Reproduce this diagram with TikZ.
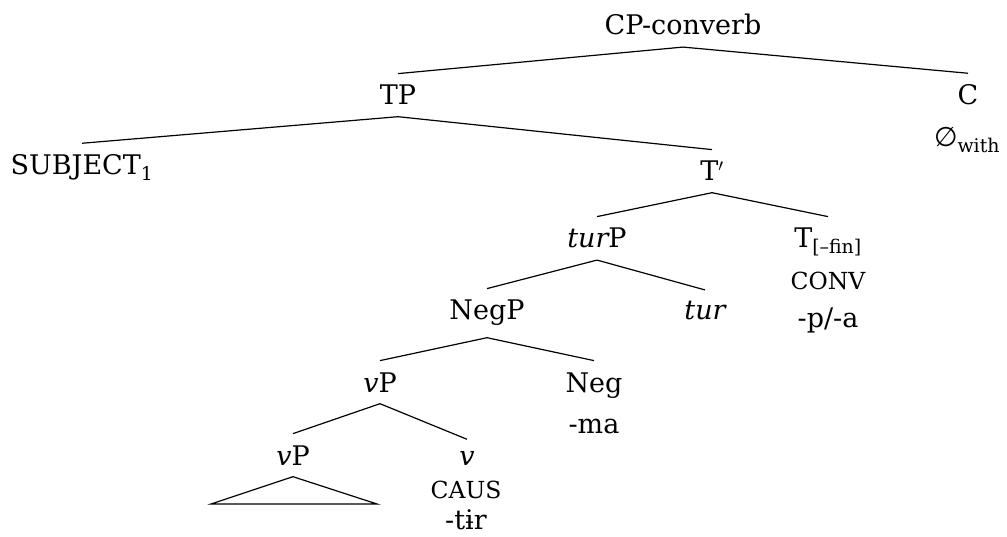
\documentclass[tikz,border=0pt]{standalone}
\usepackage{fontspec}
\setmainfont{DejaVu Serif}
\newfontfamily\symfam{DejaVu Sans}
\newcommand\bigsz{\fontsize{27}{32}\selectfont}
\newcommand\scsz{\fontsize{23.5}{28}\selectfont}
\begin{document}
\begin{tikzpicture}[x=1pt,y=-1pt,
  lab/.style={anchor=base,inner xsep=0pt,inner ysep=11.5pt,font=\bigsz},
  sclab/.style={anchor=base,inner sep=0pt,font=\scsz},
  branch/.style={line width=1.2pt}]
\useasboundingbox (0,0) rectangle (1007,537);
% nodes
\node[lab] (cp)   at (683,35)  {CP-converb};
\node[lab] (tp)   at (398,105) {TP};
\node[lab] (c)    at (968,105) {C};
\node[lab] (null) at (967,147) {{\symfam ∅}\textsubscript{with}};
\node[lab] (subj) at (82,175)  {SUBJECT\textsubscript{1}};
\node[lab] (tbar) at (712,181) {T$'$};
\node[lab] (turp) at (597,248) {{\itshape tur}P};
\node[lab] (tfin) at (828,248) {T\textsubscript{[–fin]}};
\node[sclab] (conv) at (828,290) {CONV};
\node[lab] (pa)   at (828,328) {-p/-a};
\node[lab] (negp) at (487,320) {NegP};
\node[lab] (tur)  at (705,320) {\itshape tur};
\node[lab] (vp)   at (380,392) {{\itshape v}P};
\node[lab] (neg)  at (594,392) {Neg};
\node[lab] (ma)   at (594,433) {-ma};
\node[lab] (vpb)  at (293,465) {{\itshape v}P};
\node[lab] (v)    at (467,465) {\itshape v};
\node[sclab] (caus) at (466,498) {CAUS};
\node[lab] (tir)  at (466,529) {-tɨr};
\coordinate (tl) at (211,504);
\coordinate (tr) at (377,504);
% branches
\draw[branch] (cp.south) -- (tp.north);
\draw[branch] (cp.south) -- (c.north);
\draw[branch] (tp.south) -- (subj.north);
\draw[branch] (tp.south) -- (tbar.north);
\draw[branch] (tbar.south) -- (turp.north);
\draw[branch] (tbar.south) -- (tfin.north);
\draw[branch] (turp.south) -- (negp.north);
\draw[branch] (turp.south) -- (tur.north);
\draw[branch] (negp.south) -- (vp.north);
\draw[branch] (negp.south) -- (neg.north);
\draw[branch] (vp.south) -- (vpb.north);
\draw[branch] (vp.south) -- (v.north);
\draw[branch] (vpb.south) -- (tl) -- (tr) -- cycle;
\end{tikzpicture}
\end{document}
